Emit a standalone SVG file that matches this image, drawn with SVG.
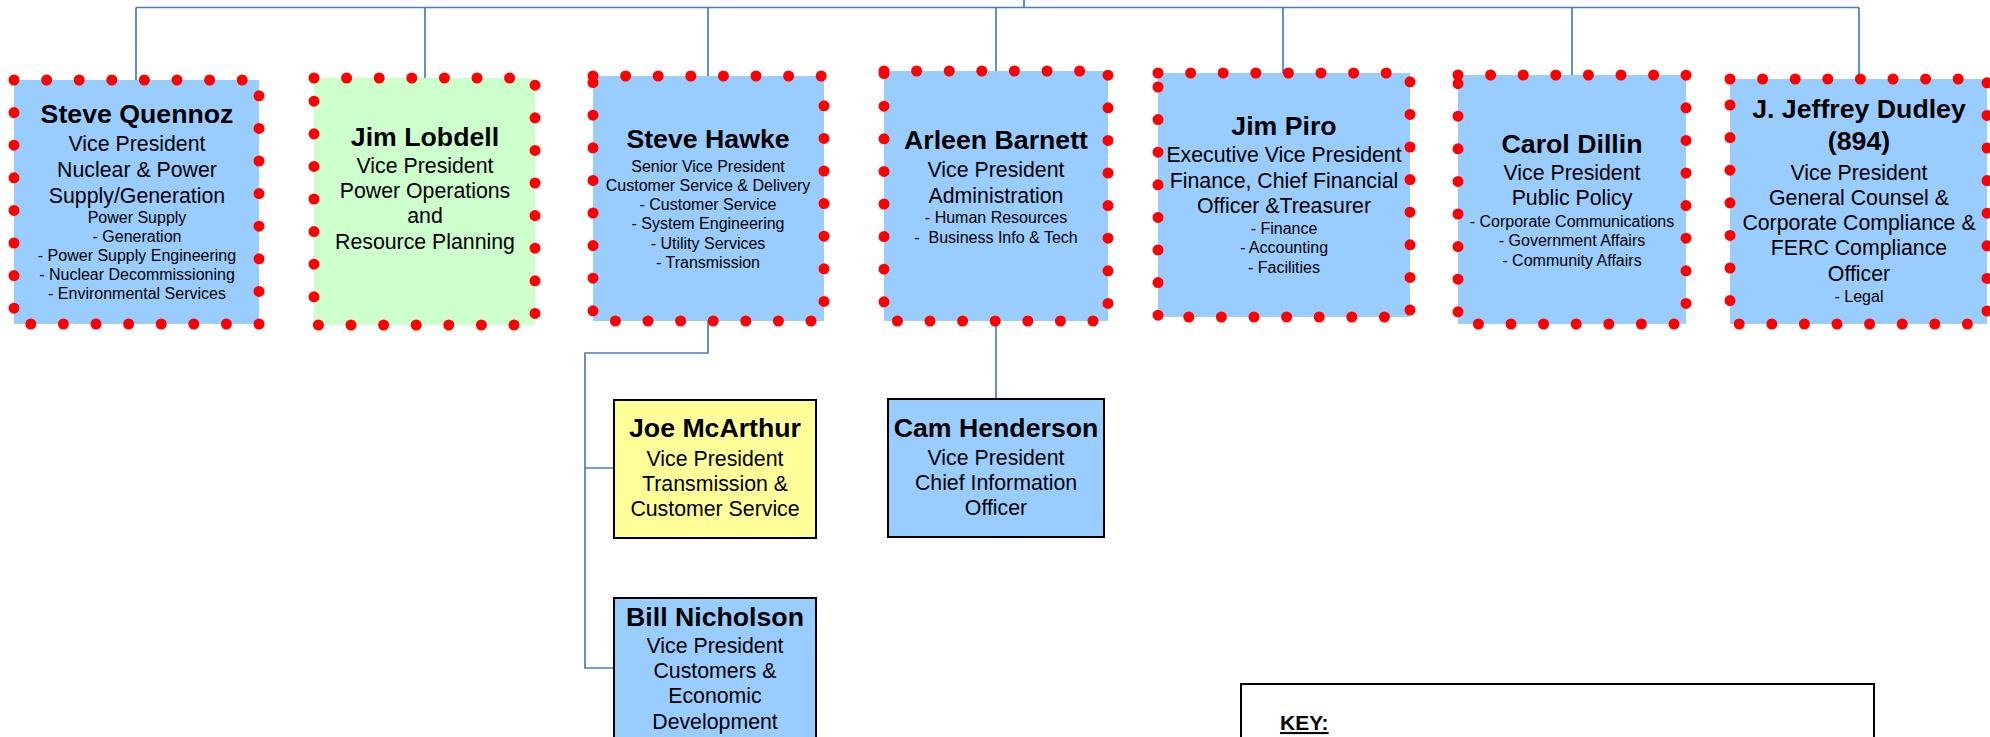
<svg xmlns="http://www.w3.org/2000/svg" width="1990" height="737" viewBox="0 0 1990 737">
<style>
text{font-family:"Liberation Sans",Arial,sans-serif;fill:#000;text-anchor:middle}
.b{font-size:26.7px;font-weight:bold}
.m{font-size:21.3px}
.s{font-size:16px}
.dot{stroke:#ff0000;stroke-width:11;stroke-linecap:round;stroke-dasharray:0 32.6}
.blue{fill:#99ccff}
.green{fill:#ccffcc}
.yellow{fill:#ffff99}
.solid{stroke:#000;stroke-width:2}
.conn{fill:none;stroke:#4a7ebb;stroke-width:1.7}
</style>
<rect width="1990" height="737" fill="#fff"/>
<g id="connectors" class="conn">
<path d="M136 7.5H1859M1024 0V7.5"/>
<path d="M136 7.5V80M425 7.5V78M708 7.5V76M996 7.5V71M1283 7.5V73M1572 7.5V75M1859 7.5V79"/>
<path d="M708 321V353H585V668H614M585 468H614"/>
<path d="M996 321V399"/>
</g>
<g id="steve-quennoz">
<rect x="14" y="80" width="245" height="244" class="blue dot"/>
<text x="137" y="123" class="b">Steve Quennoz</text>
<text x="137" y="151" class="m">Vice President</text>
<text x="137" y="177" class="m">Nuclear &amp; Power</text>
<text x="137" y="203" class="m">Supply/Generation</text>
<text x="137" y="223" class="s">Power Supply</text>
<text x="137" y="242" class="s">- Generation</text>
<text x="137" y="261" class="s">- Power Supply Engineering</text>
<text x="137" y="280" class="s">- Nuclear Decommissioning</text>
<text x="137" y="299" class="s">- Environmental Services</text>
</g>
<g id="jim-lobdell">
<rect x="314" y="78" width="221" height="247" class="green dot"/>
<text x="425" y="146" class="b">Jim Lobdell</text>
<text x="425" y="173" class="m">Vice President</text>
<text x="425" y="198" class="m">Power Operations</text>
<text x="425" y="223" class="m">and</text>
<text x="425" y="249" class="m">Resource Planning</text>
</g>
<g id="steve-hawke">
<rect x="593" y="76" width="231" height="245" class="blue dot"/>
<text x="708" y="148" class="b">Steve Hawke</text>
<text x="708" y="172" class="s">Senior Vice President</text>
<text x="708" y="191" class="s">Customer Service &amp; Delivery</text>
<text x="708" y="210" class="s">- Customer Service</text>
<text x="708" y="229" class="s">- System Engineering</text>
<text x="708" y="249" class="s">- Utility Services</text>
<text x="708" y="268" class="s">- Transmission</text>
</g>
<g id="arleen-barnett">
<rect x="884" y="71" width="224" height="250" class="blue dot"/>
<text x="996" y="149" class="b">Arleen Barnett</text>
<text x="996" y="177" class="m">Vice President</text>
<text x="996" y="203" class="m">Administration</text>
<text x="996" y="223" class="s">- Human Resources</text>
<text x="996" y="243" class="s" xml:space="preserve">-  Business Info &amp; Tech</text>
</g>
<g id="jim-piro">
<rect x="1158" y="73" width="252" height="244" class="blue dot"/>
<text x="1284" y="135" class="b">Jim Piro</text>
<text x="1284" y="162" class="m">Executive Vice President</text>
<text x="1284" y="188" class="m">Finance, Chief Financial</text>
<text x="1284" y="213" class="m">Officer &amp;Treasurer</text>
<text x="1284" y="234" class="s">- Finance</text>
<text x="1284" y="253" class="s">- Accounting</text>
<text x="1284" y="273" class="s">- Facilities</text>
</g>
<g id="carol-dillin">
<rect x="1458" y="75" width="228" height="249" class="blue dot"/>
<text x="1572" y="153" class="b">Carol Dillin</text>
<text x="1572" y="180" class="m">Vice President</text>
<text x="1572" y="205" class="m">Public Policy</text>
<text x="1572" y="227" class="s">- Corporate Communications</text>
<text x="1572" y="246" class="s">- Government Affairs</text>
<text x="1572" y="266" class="s">- Community Affairs</text>
</g>
<g id="jeffrey-dudley">
<rect x="1730" y="79" width="257" height="245" class="blue dot"/>
<text x="1859" y="118" class="b">J. Jeffrey Dudley</text>
<text x="1859" y="150" class="b">(894)</text>
<text x="1859" y="180" class="m">Vice President</text>
<text x="1859" y="205" class="m">General Counsel &amp;</text>
<text x="1859" y="230" class="m">Corporate Compliance &amp;</text>
<text x="1859" y="255" class="m">FERC Compliance</text>
<text x="1859" y="281" class="m">Officer</text>
<text x="1859" y="302" class="s">- Legal</text>
</g>
<g id="joe-mcarthur">
<rect x="614" y="400" width="202" height="138" class="yellow solid"/>
<text x="715" y="437" class="b">Joe McArthur</text>
<text x="715" y="466" class="m">Vice President</text>
<text x="715" y="491" class="m">Transmission &amp;</text>
<text x="715" y="516" class="m">Customer Service</text>
</g>
<g id="cam-henderson">
<rect x="888" y="399" width="216" height="138" class="blue solid"/>
<text x="996" y="437" class="b">Cam Henderson</text>
<text x="996" y="465" class="m">Vice President</text>
<text x="996" y="490" class="m">Chief Information</text>
<text x="996" y="515" class="m">Officer</text>
</g>
<g id="bill-nicholson">
<rect x="614" y="598" width="202" height="160" class="blue solid"/>
<text x="715" y="626" class="b">Bill Nicholson</text>
<text x="715" y="653" class="m">Vice President</text>
<text x="715" y="678" class="m">Customers &amp;</text>
<text x="715" y="703" class="m">Economic</text>
<text x="715" y="729" class="m">Development</text>
</g>
<g id="key">
<rect x="1241" y="684" width="633" height="80" fill="#fff" class="solid"/>
<text x="1280" y="730" style="font-size:21px;font-weight:bold;text-anchor:start;text-decoration:underline">KEY:</text>
</g>
</svg>
